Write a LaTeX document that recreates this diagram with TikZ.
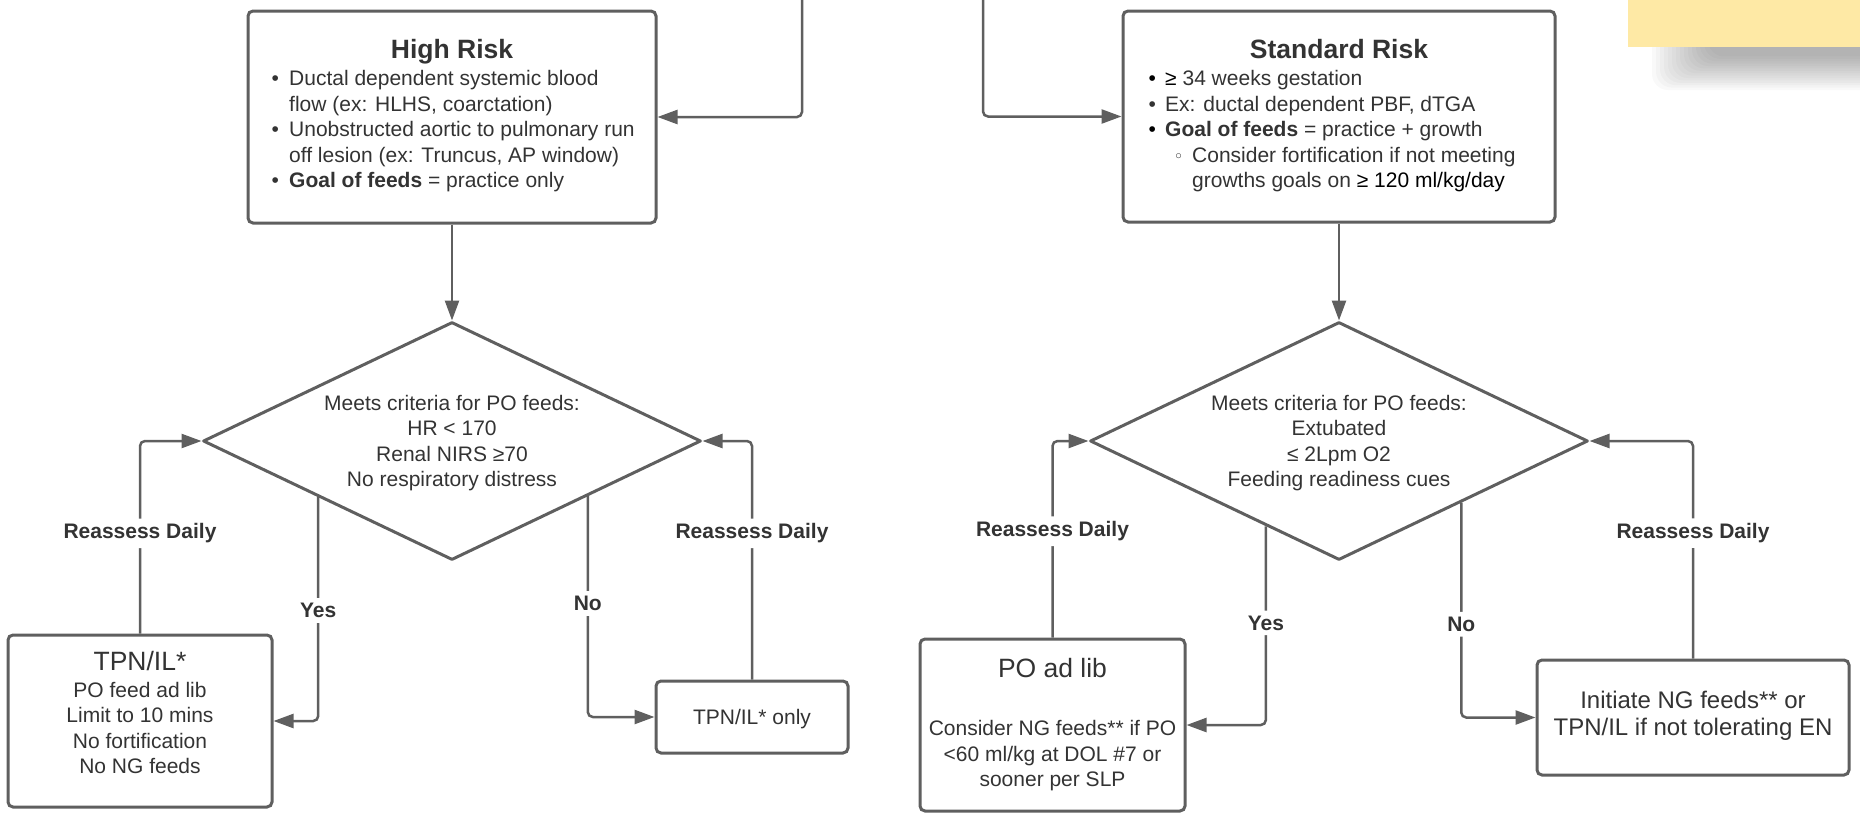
\documentclass[tikz,border=0pt]{standalone}
\usepackage{fontspec}
\setmainfont{Liberation Sans}
\newfontfamily\djv{DejaVu Sans}
\usetikzlibrary{arrows.meta,shapes.geometric,calc}
\definecolor{ln}{HTML}{5F5F5F}
\definecolor{tx}{HTML}{333333}
\definecolor{notecol}{HTML}{FEE9A5}
\newcommand\bodyfont{\fontsize{21}{25.6}\selectfont}
\newcommand\titlefont{\fontsize{26.5}{30}\selectfont\bfseries}
\newcommand\clines[1]{\begin{tabular}[t]{@{}c@{}}#1\end{tabular}}
\newcommand\subbul{\makebox[27pt][l]{\hspace{8.5pt}{\djv\fontsize{17}{17}\selectfont ◦}}}
\begin{document}
\begin{tikzpicture}[x=1pt,y=-1pt,
  box/.style={draw=ln, line width=3pt, rounded corners=5pt, fill=white, inner sep=0pt},
  dec/.style={diamond, draw=ln, line width=3pt, line join=round, aspect=2.09,
    minimum width=498pt, minimum height=238pt, inner sep=0pt},
  arr/.style={draw=ln, line width=2.5pt, rounded corners=5pt, -{Triangle[length=20pt,width=14pt]}},
  lbl/.style={fill=white, font=\bodyfont\bfseries, text=tx, inner sep=5pt},
  rlbl/.style={lbl, yshift=-3pt},
  txt/.style={font=\bodyfont, text=tx, inner sep=0pt, anchor=base},
  shadowlayer/.style={black, opacity=0.022, rounded corners=16pt},
]
\useasboundingbox (0,0) rectangle (1860,814);

% sticky note with soft shadow
\foreach \i in {0,...,14}
  \fill[shadowlayer] ({1652+\i*4},20) rectangle (1920,{90-\i*2.4});
\fill[notecol] (1628,-60) rectangle (1920,46.7);

% High Risk
\node[box, minimum width=408pt, minimum height=212pt] (hr) at (452,117) {};
\node[txt, font=\titlefont] (hrt) at (452,58) {High Risk};
\node[txt, anchor=base west] (hrl) at (271.3,85.5) {\begin{tabular}[t]{@{}l@{\hspace{10.35pt}}l@{}}
•& Ductal dependent systemic blood\\
 & flow (ex: HLHS, coarctation)\\
•& Unobstructed aortic to pulmonary run\\
 & off lesion (ex: Truncus, AP window)\\
•& \textbf{Goal of feeds} = practice only
\end{tabular}};

% Standard Risk
\node[box, minimum width=432pt, minimum height=211pt] (sr) at (1339,116.5) {};
\node[txt, font=\titlefont] (srt) at (1339,58) {Standard Risk};
\node[txt, anchor=base west] (srl) at (1148.3,85.5) {\begin{tabular}[t]{@{}l@{\hspace{9.35pt}}l@{}}
\textcolor{black}{•}& \textcolor{black}{≥} 34 weeks gestation\\
•& Ex: ductal dependent PBF, dTGA\\
\textcolor{black}{•}& \textbf{Goal of feeds} = practice + growth\\
 & \subbul Consider fortification if not meeting\\
 & \hspace{27pt}growths goals on \textcolor{black}{≥ 120 ml/kg/day}
\end{tabular}};

% incoming arrows from top
\coordinate (t1) at (802,-5);
\coordinate (t2) at (983,-5);
\draw[arr] (t1) |- (hr.east);
\draw[arr] (t2) |- (sr.west);

% decisions
\node[dec] (d1) at (452,441) {};
\node[txt] (d1t) at (452,410) {\clines{Meets criteria for PO feeds:\\HR < 170\\Renal NIRS ≥70\\No respiratory distress}};
\node[dec] (d2) at (1339,441) {};
\node[txt] (d2t) at (1339,410) {\clines{Meets criteria for PO feeds:\\Extubated\\≤ 2Lpm O2\\Feeding readiness cues}};
\draw[arr] (hr.south) -- (d1.north);
\draw[arr] (sr.south) -- (d2.north);

% left outcome boxes
\node[box, minimum width=264pt, minimum height=172pt] (tpn) at (140,721) {};
\node[txt] (tpnt) at (140,670.5) {\clines{{\fontsize{26.5}{27}\selectfont TPN/IL*}\\[1pt]PO feed ad lib\\Limit to 10 mins\\No fortification\\No NG feeds}};
\node[box, minimum width=192pt, minimum height=72pt] (only) at (752,717) {};
\node[txt] (onlyt) at (752,724) {TPN/IL* only};

% right outcome boxes
\node[box, minimum width=265pt, minimum height=172pt] (po) at (1052.5,725) {};
\node[txt] (pot) at (1052.5,677.5) {\clines{{\fontsize{26.5}{27}\selectfont PO ad lib}\\[6.8pt]\\Consider NG feeds** if PO\\<60 ml/kg at DOL \#7 or\\sooner per SLP}};
\node[box, minimum width=312pt, minimum height=115pt] (init) at (1693,717.5) {};
\node[txt, font=\fontsize{24}{27}\selectfont] (initt) at (1693,708.5) {\clines{Initiate NG feeds** or\\TPN/IL if not tolerating EN}};

% yes / no connectors
\draw[arr] ($(d1.west)!0.466!(d1.south)$) |- node[lbl, pos=0.253] {Yes} (tpn.east);
\draw[arr] ($(d1.east)!0.458!(d1.south)$) |- node[lbl, pos=0.243] {No} (only.west);
\draw[arr] ($(d2.west)!0.708!(d2.south)$) |- node[lbl, pos=0.243] {Yes} (po.east);
\draw[arr] ($(d2.east)!0.512!(d2.south)$) |- node[lbl, pos=0.283] {No} (init.west);

% reassess loops
\draw[arr] (tpn.north) |- node[rlbl, pos=0.268] {Reassess Daily} (d1.west);
\draw[arr] (only.north) |- node[rlbl, pos=0.3125] {Reassess Daily} (d1.east);
\draw[arr] (po.north) |- node[rlbl, pos=0.278] {Reassess Daily} (d2.west);
\draw[arr] (init.north) |- node[rlbl, pos=0.295] {Reassess Daily} (d2.east);
\end{tikzpicture}
\end{document}
